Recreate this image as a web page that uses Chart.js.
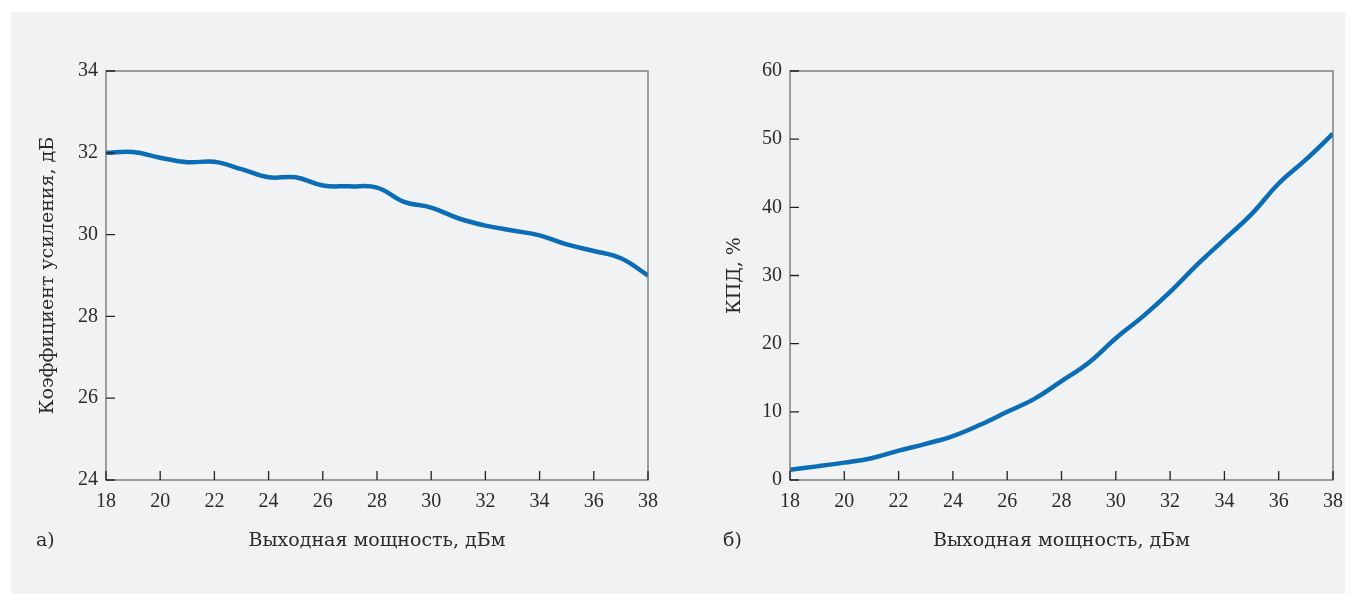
<!DOCTYPE html>
<html>
<head>
<meta charset="utf-8">
<script src="https://cdn.jsdelivr.net/npm/chart.js@4"></script>
<style>
    html, body { margin: 0; padding: 0; background: #fff; }
    #page { position: relative; width: 1357px; height: 594px; overflow: hidden; }
    #panel { position: absolute; left: 11px; top: 12px; width: 1334px; height: 582px; background: #f1f2f4; }
    .box { position: absolute; top: 0; height: 594px; }
    .tag { position: absolute; top: 528px; font: 19px "DejaVu Serif", serif; color: #2b2b2b; }
</style>
</head>
<body>
<div id="page">
    <div id="panel"></div>
    <div class="box" style="left:0;width:670px"><canvas id="gain_chart"></canvas></div>
    <div class="box" style="left:680px;width:677px"><canvas id="eff_chart"></canvas></div>
    <div class="tag" style="left:36px">а)</div>
    <div class="tag" style="left:723px">б)</div>
</div>
<script>
// Output power, dBm
var power = [18, 19, 20, 21, 22, 23, 24, 25, 26, 27, 28, 29, 30, 31, 32, 33, 34, 35, 36, 37, 38];
// Gain, dB
var gain = [32.0, 32.02, 31.88, 31.77, 31.78, 31.6, 31.4, 31.4, 31.2, 31.18, 31.15, 30.8, 30.66, 30.4, 30.22, 30.1, 29.98, 29.76, 29.6, 29.42, 29.0];
// Efficiency, %
var efficiency = [1.5, 2.0, 2.55, 3.2, 4.3, 5.3, 6.45, 8.1, 10.0, 11.9, 14.5, 17.2, 20.8, 24.0, 27.6, 31.6, 35.3, 39.0, 43.5, 47.0, 50.8];

var xTicks = [18, 20, 22, 24, 26, 28, 30, 32, 34, 36, 38];

var tickFont = { family: '"Liberation Serif", serif', size: 20 };
var titleFont = { family: '"DejaVu Serif", serif', size: 19 };
var textColor = '#2b2b2b';

// frame around the plot and inward tick marks
var framePlugin = {
    id: 'frame',
    afterDraw: function(chart) {
        var ctx = chart.ctx, a = chart.chartArea;
        ctx.save();
        ctx.strokeStyle = '#6e6e6e';
        ctx.lineWidth = 1.3;
        ctx.strokeRect(a.left, a.top, a.right - a.left, a.bottom - a.top);
        ctx.strokeStyle = '#222';
        ctx.beginPath();
        chart.scales.x.ticks.forEach(function(t) {
            var px = chart.scales.x.getPixelForValue(t.value);
            ctx.moveTo(px, a.bottom);
            ctx.lineTo(px, a.bottom - 9);
        });
        chart.scales.y.ticks.forEach(function(t) {
            var py = chart.scales.y.getPixelForValue(t.value);
            ctx.moveTo(a.left, py);
            ctx.lineTo(a.left + 9, py);
        });
        ctx.stroke();
        ctx.restore();
    }
};

function makeChart(id, values, yMin, yMax, yStep, yTitle, yWidth, titleOffset, padRight) {
    var points = power.map(function(p, i) { return {x: p, y: values[i]}; });
    var ctx = document.getElementById(id).getContext('2d');
    return new Chart(ctx, {
        type: 'line',
        data: {
            datasets: [{
                data: points,
                borderColor: '#0b6db5',
                borderWidth: 4.5,
                pointRadius: 0,
                tension: 0.4,
                fill: false
            }]
        },
        options: {
            responsive: true,
            maintainAspectRatio: false,
            animation: false,
            layout: { padding: { top: 71, right: padRight, left: 0, bottom: 0 } },
            plugins: { legend: { display: false }, tooltip: { enabled: false } },
            scales: {
                x: {
                    type: 'linear',
                    min: 18, max: 38,
                    afterBuildTicks: function(s) { s.ticks = xTicks.map(function(v) { return {value: v}; }); },
                    afterFit: function(s) { s.height = 114; },
                    grid: { display: false, drawTicks: false },
                    border: { display: false },
                    ticks: { padding: 10, color: textColor, font: tickFont, maxRotation: 0 },
                    title: {
                        display: true,
                        text: 'Выходная мощность, дБм',
                        color: textColor,
                        font: titleFont,
                        padding: { top: 0, bottom: 42 }
                    }
                },
                y: {
                    min: yMin, max: yMax,
                    afterBuildTicks: function(s) {
                        var t = [];
                        for (var v = yMin; v <= yMax; v += yStep) t.push({value: v});
                        s.ticks = t;
                    },
                    afterFit: function(s) { s.width = yWidth; },
                    grid: { display: false, drawTicks: false },
                    border: { display: false },
                    ticks: { padding: 8, color: textColor, font: tickFont },
                    title: {
                        display: true,
                        text: yTitle,
                        color: textColor,
                        font: titleFont,
                        padding: { top: titleOffset, bottom: 0 }
                    }
                }
            }
        },
        plugins: [framePlugin]
    });
}

makeChart('gain_chart', gain, 24, 34, 2, 'Коэффициент усиления, дБ', 106, 37, 22);
makeChart('eff_chart', efficiency, 0, 60, 10, 'КПД, %', 110, 44, 24);
</script>
</body>
</html>
